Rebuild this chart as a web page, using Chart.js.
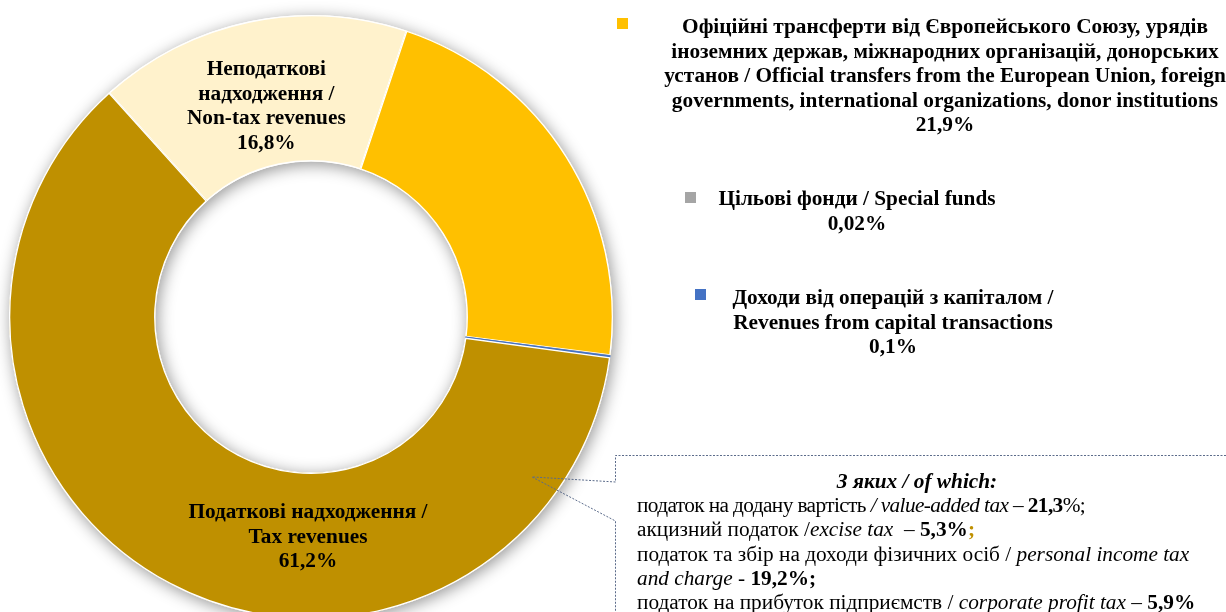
<!DOCTYPE html>
<html>
<head>
<meta charset="utf-8">
<script src="https://cdn.jsdelivr.net/npm/chart.js@4/dist/chart.umd.min.js"></script>
<style>
  html, body { margin: 0; padding: 0; background: #fff; overflow: hidden; }
  #wrap { position: relative; width: 1226px; height: 612px; }
  #chart { position: absolute; left: 0; top: 0; }
  .txt { position: absolute; font-family: "Liberation Serif", "Times New Roman", serif; color: #000; font-size: 21.3px; line-height: 24.5px; }
  .legend { font-weight: bold; text-align: center; white-space: nowrap; }
  .sq { position: absolute; width: 11px; height: 11px; }
  .note { white-space: nowrap; line-height: 24.2px; }
</style>
</head>
<body>
<div id="wrap">
  <canvas id="chart" width="1226" height="612"></canvas>

  <!-- легенда справа -->
  <div class="sq" style="left:617px; top:18px; background:#FFC000"></div>
  <div class="txt legend" style="left:655px; width:580px; top:14px;">
    Офіційні трансферти від Європейського Союзу, урядів<br>
    іноземних держав, міжнародних організацій, донорських<br>
    установ / Official transfers from the European Union, foreign<br>
    governments, international organizations, donor institutions<br>
    21,9%
  </div>
  <div class="sq" style="left:685px; top:192px; background:#A5A5A5"></div>
  <div class="txt legend" style="left:707px; width:300px; top:186px;">
    Цільові фонди / Special funds<br>0,02%
  </div>
  <div class="sq" style="left:695px; top:289px; background:#4472C4"></div>
  <div class="txt legend" style="left:718px; width:350px; top:285px;">
    Доходи від операцій з капіталом /<br>Revenues from capital transactions<br>0,1%
  </div>

  <!-- виноска з податковими надходженнями -->
  <div class="txt note" style="left:637px; top:469px;">
    <div style="text-align:center; width:560px; font-weight:bold; font-style:italic;">З яких / of which:</div>
    <span style="letter-spacing:-0.6px">податок на додану вартість <i>/ value-added tax</i> – <b>21,3</b>%;</span><br>
    акцизний податок /<i>excise tax</i>&nbsp; – <b>5,3%</b><b style="color:#BF9000">;</b><br>
    податок та збір на доходи фізичних осіб / <i>personal income tax</i><br>
    <i>and charge</i> - <b>19,2%;</b><br>
    податок на прибуток підприємств / <i>corporate profit tax</i> – <b>5,9%</b>
  </div>
</div>

<script>
// Структура доходів бюджету, %
const labels = [
    'Неподаткові надходження / Non-tax revenues',
    'Офіційні трансферти / Official transfers',
    'Цільові фонди / Special funds',
    'Доходи від операцій з капіталом / Revenues from capital transactions',
    'Податкові надходження / Tax revenues'
];
const values = [16.8, 21.9, 0.02, 0.1, 61.2];
const valueLabels = ['16,8%', '21,9%', '0,02%', '0,1%', '61,2%'];
const colors = ['#FFF2CC', '#FFC000', '#A5A5A5', '#4472C4', '#BF9000'];
const borderColors = ['#ffffff', '#ffffff', '#A5A5A5', '#4472C4', '#ffffff'];

// Підписи всередині сегментів
const innerLabels = {
    0: ['Неподаткові', 'надходження /', 'Non-tax revenues', valueLabels[0]],
    4: ['Податкові надходження /', 'Tax revenues', valueLabels[4]]
};

const FONT = '"Liberation Serif", "Times New Roman", serif';

// Тінь під кільцем
const ringShadow = {
    id: 'ringShadow',
    beforeDatasetsDraw(chart) {
        const arc = chart.getDatasetMeta(0).data[0];
        if (!arc) return;
        const ctx = chart.ctx;
        ctx.save();
        ctx.shadowColor = 'rgba(0,0,0,0.42)';
        ctx.shadowBlur = 16;
        ctx.shadowOffsetX = 2;
        ctx.shadowOffsetY = 3;
        ctx.fillStyle = '#ffffff';
        ctx.beginPath();
        ctx.arc(arc.x, arc.y, arc.outerRadius, 0, Math.PI * 2);
        ctx.arc(arc.x, arc.y, arc.innerRadius, 0, Math.PI * 2, true);
        ctx.fill();
        ctx.restore();
    }
};

// Підписи та виноска
const sliceLabels = {
    id: 'sliceLabels',
    afterDatasetsDraw(chart) {
        const ctx = chart.ctx;
        const meta = chart.getDatasetMeta(0);
        ctx.save();
        ctx.font = 'bold 21.3px ' + FONT;
        ctx.fillStyle = '#000';
        ctx.textAlign = 'center';
        ctx.textBaseline = 'middle';
        const lh = 24.5;

        // неподаткові
        const a0 = meta.data[0];
        const p0 = a0.tooltipPosition();
        let lines = innerLabels[0];
        let y0 = p0.y + 13.5 - (lines.length - 1) * lh / 2;
        lines.forEach((t, i) => ctx.fillText(t, p0.x + 2, y0 + i * lh));

        // податкові
        const a4 = meta.data[4];
        lines = innerLabels[4];
        const cy = a4.y + a4.innerRadius + (a4.outerRadius - a4.innerRadius) * 0.44;
        y0 = cy - (lines.length - 1) * lh / 2;
        lines.forEach((t, i) => ctx.fillText(t, a4.x - 3, y0 + i * lh));

        // виноска
        const ang = (125.9 - 90) * Math.PI / 180;
        const rr = a4.innerRadius + (a4.outerRadius - a4.innerRadius) * 0.8;
        const tipX = a4.x + Math.cos(ang) * rr;
        const tipY = a4.y + Math.sin(ang) * rr;
        ctx.strokeStyle = '#5B6B8A';
        ctx.lineWidth = 1;
        ctx.setLineDash([2, 1.5]);
        ctx.beginPath();
        ctx.moveTo(1240, 455.5);
        ctx.lineTo(615.5, 455.5);
        ctx.lineTo(615.5, 482);
        ctx.lineTo(tipX, tipY);
        ctx.lineTo(615.5, 521);
        ctx.lineTo(615.5, 620);
        ctx.stroke();
        ctx.restore();
    }
};

new Chart(document.getElementById('chart'), {
    type: 'doughnut',
    data: {
        labels: labels,
        datasets: [{
            data: values,
            backgroundColor: colors,
            borderColor: borderColors,
            borderWidth: 1,
            borderAlign: 'inner',
            clip: false
        }]
    },
    options: {
        responsive: false,
        animation: false,
        rotation: -42,
        radius: 302,
        cutout: 152,
        layout: { padding: { left: 0, right: 604, top: 22, bottom: 0 } },
        plugins: {
            legend: { display: false },
            tooltip: { enabled: false }
        }
    },
    plugins: [ringShadow, sliceLabels]
});
</script>
</body>
</html>
